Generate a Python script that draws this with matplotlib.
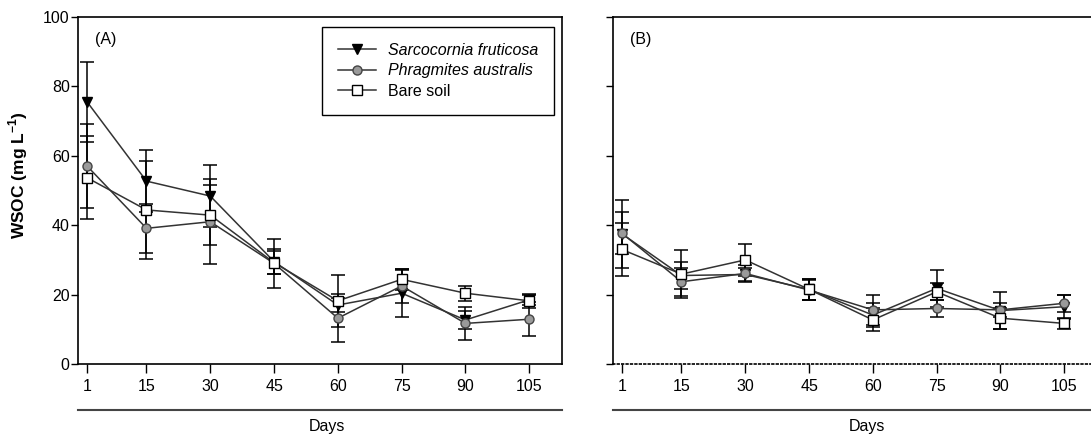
import matplotlib
matplotlib.use('Agg')
import matplotlib.pyplot as plt
from matplotlib.lines import Line2D

plt.rcParams['font.family'] = ['Liberation Sans', 'DejaVu Sans']
plt.rcParams['mathtext.fontset'] = 'custom'
plt.rcParams['mathtext.rm'] = 'Liberation Sans'
plt.rcParams['mathtext.bf'] = 'Liberation Sans:bold'

days = [1, 15, 30, 45, 60, 75, 90, 105]
labels = ['Sarcocornia fruticosa', 'Phragmites australis', 'Bare soil']

# panel A
sarc_a = [75.6, 52.7, 48.4, 29.5, 17.0, 20.4, 12.7, 18.5]
sarc_a_err = [11.5, 9.0, 9.0, 3.5, 2.0, 6.8, 2.5, 1.5]
phrag_a = [57.1, 39.1, 41.0, 29.0, 13.2, 22.5, 11.7, 12.9]
phrag_a_err = [12.0, 7.0, 12.3, 7.0, 7.0, 4.8, 4.8, 4.9]
bare_a = [53.7, 44.4, 42.9, 29.2, 18.2, 24.4, 20.4, 18.2]
bare_a_err = [12.0, 14.0, 8.7, 3.3, 7.4, 3.0, 2.2, 2.0]

# panel B
sarc_b = [37.5, 25.5, 25.8, 21.5, 14.1, 21.8, 15.4, 16.5]
sarc_b_err = [9.8, 4.0, 2.0, 3.0, 3.4, 5.3, 5.3, 3.5]
phrag_b = [37.7, 23.7, 26.1, 21.3, 15.6, 16.0, 15.6, 17.5]
phrag_b_err = [6.0, 4.0, 2.5, 3.0, 4.3, 2.5, 2.0, 2.5]
bare_b = [33.0, 25.9, 30.0, 21.5, 12.7, 20.8, 13.2, 11.7]
bare_b_err = [7.5, 7.0, 4.5, 3.0, 3.3, 2.5, 3.0, 1.5]

styles = [
    dict(marker='v', markersize=7.5, markerfacecolor='black', markeredgecolor='black'),
    dict(marker='o', markersize=6.5, markerfacecolor='#9a9a9a', markeredgecolor='#444444'),
    dict(marker='s', markersize=7, markerfacecolor='white', markeredgecolor='black'),
]

fig = plt.figure(figsize=(10.91, 4.38), dpi=100)
W, H = 1091, 438
ax_a = fig.add_axes([78 / W, (438 - 364) / H, 484 / W, 347 / H])
ax_b = fig.add_axes([613 / W, (438 - 364) / H, 484 / W, 347 / H])


def draw(ax, series, tag, ylabels):
    for (vals, errs), st in zip(series, styles):
        ax.errorbar(days, vals, yerr=errs, color='#333333', lw=1.1, ecolor='black',
                    elinewidth=1.1, capsize=5, capthick=1.1, **st)
    ax.set_xlim(-1.1, 112.7)
    ax.set_ylim(0, 100)
    ax.set_xticks(days)
    ax.set_yticks([0, 20, 40, 60, 80, 100])
    ax.tick_params(axis='x', length=6.5, width=1, pad=4, labelsize=11.5)
    ax.tick_params(axis='y', length=5, width=1, pad=1, labelsize=11.5)
    if not ylabels:
        ax.set_yticklabels([])
    for s in ax.spines.values():
        s.set_linewidth(1.2)
    ax.text(0.035, 0.935, tag, transform=ax.transAxes, fontsize=11.5, va='center')
    ax.plot([0, 1], [-0.1326, -0.1326], transform=ax.transAxes, color='#444444',
            lw=1.5, clip_on=False)
    return ax


draw(ax_a, [(sarc_a, sarc_a_err), (phrag_a, phrag_a_err), (bare_a, bare_a_err)], '(A)', True)
draw(ax_b, [(sarc_b, sarc_b_err), (phrag_b, phrag_b_err), (bare_b, bare_b_err)], '(B)', False)

ax_a.text(0.514, -0.18, 'Days', transform=ax_a.transAxes, ha='center', va='center', fontsize=11.5)
ax_b.text(0.525, -0.18, 'Days', transform=ax_b.transAxes, ha='center', va='center', fontsize=11.5)
fig.text(18 / W, 1 - 175 / H, r'WSOC (mg L$^{\mathbf{-1}}$)', rotation=90, ha='center',
         va='center', fontsize=12.5, fontweight='bold')
ax_b.spines['bottom'].set_linestyle(':')

handles = [Line2D([], [], color='#333333', lw=1.1, **st) for st in styles]
leg = ax_a.legend(handles, labels, loc='upper right', bbox_to_anchor=(0.983, 0.972),
                  fontsize=11.5, frameon=True, fancybox=False, edgecolor='black',
                  framealpha=1, borderpad=1.0, labelspacing=0.35, handlelength=2.4,
                  handletextpad=0.7, borderaxespad=0)
leg.get_frame().set_linewidth(1.0)
for t in leg.get_texts()[:2]:
    t.set_fontstyle('italic')

fig.savefig('out.png', dpi=100)
